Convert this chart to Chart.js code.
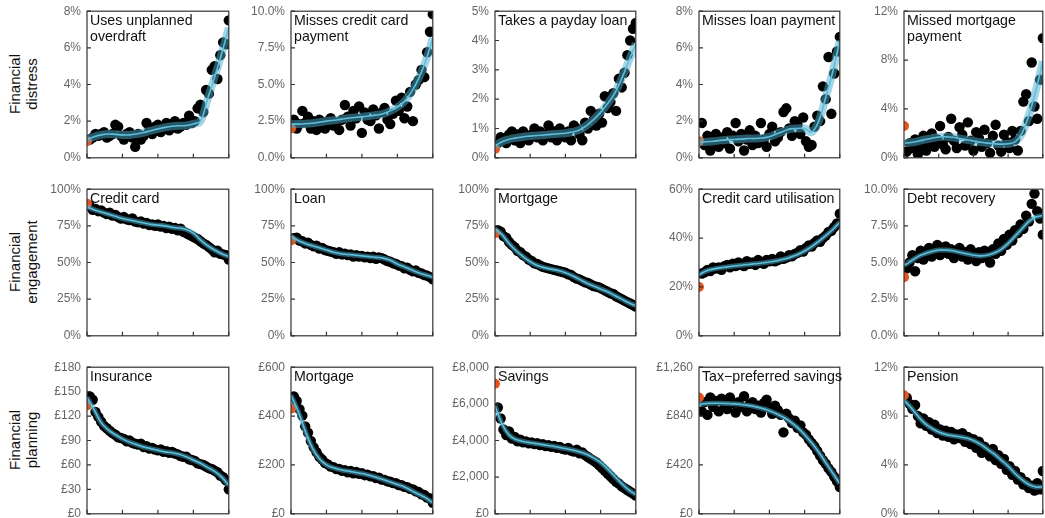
<!DOCTYPE html>
<html>
<head>
<meta charset="utf-8">
<script src="https://cdn.jsdelivr.net/npm/chart.js@4"></script>
<style>
  body { margin: 0; background: #fff; }
  #wrap { position: relative; width: 1045px; height: 518px; overflow: hidden; font-family: "Liberation Sans", Arial, sans-serif; }
  #wrap canvas { position: absolute; }
  .ttl { position: absolute; font-size: 14.2px; line-height: 16px; color: #111; white-space: nowrap; }
  .row { position: absolute; left: 23px; font-size: 15px; line-height: 17px; color: #111; text-align: center;
         white-space: nowrap; transform: translate(-50%, -50%) rotate(-90deg); }
</style>
</head>
<body>
<div id="wrap"></div>
<script>
// percentile categories
const dotX = Array.from({ length: 50 }, (_, i) => 2 + i * 2);
const lineX = Array.from({ length: 21 }, (_, i) => i * 5);
const xTicks = [0, 25, 50, 75, 100];

const rowLabels = ["Financial<br>distress", "Financial<br>engagement", "Financial<br>planning"];

// ---- Financial distress ----
const overdraftDots = [1.0,1.1,1.3,1.2,1.3,1.4,1.1,1.2,1.3,1.8, 1.7,1.2,1.0,1.3,1.4,1.1,0.6,1.3,1.0,1.2, 1.9,1.5,1.3,1.7,1.8,1.4,1.6,1.9,1.5,1.8, 2.0,1.6,1.7,1.9,1.8,2.3,1.9,2.0,2.7,2.9, 2.5,3.7,3.5,4.8,5.0,4.3,5.6,6.3,6.2,7.5];
const overdraftLine = [1.0,1.15,1.25,1.3,1.28,1.25,1.25,1.3,1.38,1.48,1.58,1.66,1.72,1.75,1.76,1.85,2.0,3.2,4.4,5.7,7.1];

const ccMissDots = [2.6,2.0,2.3,3.2,2.4,2.8,2.0,2.5,1.9,2.6, 2.3,2.0,2.5,2.7,2.2,2.4,1.9,2.6,3.6,2.8, 2.2,3.2,2.7,3.5,1.7,3.1,2.6,2.5,3.3,2.9, 2.0,3.1,3.4,2.6,2.3,3.0,3.9,3.2,4.1,2.7, 3.5,4.5,2.5,5.0,5.3,6.0,5.5,7.2,8.6,9.8];
const ccMissLine = [2.3,2.3,2.32,2.36,2.42,2.5,2.56,2.62,2.7,2.75,2.8,2.85,2.92,3.0,3.2,3.45,3.85,4.5,5.4,6.6,8.2];

const paydayDots = [0.5,0.7,0.6,0.5,0.8,0.9,0.6,0.8,0.5,0.9, 0.7,0.6,0.8,1.0,0.7,0.9,0.6,0.8,1.1,0.7, 0.9,0.6,1.0,0.8,0.7,0.9,0.6,1.1,1.0,0.8, 0.6,1.2,1.0,1.6,1.3,1.1,1.5,1.2,2.1,1.7, 1.9,2.2,1.6,2.7,2.4,2.9,3.5,4.0,4.4,4.6];
const paydayLine = [0.4,0.55,0.63,0.68,0.72,0.74,0.76,0.78,0.8,0.82,0.84,0.88,0.95,1.1,1.3,1.55,1.85,2.2,2.7,3.3,3.9];

const loanMissDots = [1.9,0.7,1.2,0.4,0.9,1.3,0.6,1.1,0.8,1.4, 0.5,1.2,1.9,0.9,1.3,0.4,1.0,1.5,0.7,1.2, 0.8,1.9,1.0,0.6,1.3,1.7,0.9,1.1,1.4,2.5, 2.7,1.6,1.2,2.0,1.8,1.3,2.2,0.9,0.6, 0.7,1.7,2.3,2.0,3.9,3.2,5.5,2.4,4.6,5.8,6.6];
const loanMissLine = [0.85,0.88,0.9,0.95,0.98,1.0,1.02,1.05,1.05,1.08,1.15,1.3,1.45,1.58,1.6,1.6,1.4,2.0,3.3,4.7,6.4];

const mortMissDots = [0.5,1.2,0.8,1.5,0.3,1.0,1.8,0.6,1.3,2.0, 0.9,1.5,2.6,1.1,0.7,1.7,3.2,1.4,0.8,2.5, 1.9,1.0,2.9,1.4,0.6,2.1,1.6,0.9,2.3,1.2, 0.4,1.8,2.7,1.0,0.5,1.9,1.3,0.8,2.2,1.5,0.6, 2.2,4.6,5.2,3.0,7.8,4.2,3.2,6.4,9.8];
const mortMissLine = [1.2,1.25,1.35,1.5,1.6,1.7,1.72,1.68,1.58,1.48,1.38,1.28,1.2,1.15,1.12,1.15,1.3,2.0,3.5,5.5,7.9];

// ---- Financial engagement ----
const creditCardDots = [88.5,86,86.5,85,85.5,84,83,84,82,82.5, 81,80,81,79.5,79,80,78,77.5,78,76.5, 77,75.5,76,75,76,74.5,75,73.5,74.5,73, 73.5,72,73,71,70,69,68,67,66,64.5, 63,62,60.5,59,57,58,56,55.5,55,52];
const creditCardLine = [88,86,84.5,83,81.5,80,79,78,77,76,75.5,75,74,73.5,72.5,70,65.5,61.5,58.5,56,54];

const loanDots = [66.5,67,65,64.5,63,63.5,62,61,61.5,59.5, 60,58.5,58,57.5,57,56,57,55.5,56,55, 55.5,54,55,54,54.5,53.5,54,53,54,52.5, 53.5,53,52,51,50.5,49.5,49,48,47.5,46, 46.5,45,44,44.5,43,42.5,41.5,41,40,38.5];
const loanLine = [68,65,63,61.5,60,58.5,57,56,55.5,55,54.5,54,53.5,53,51.5,49,47,45,43,41.5,40];

const mortgageDots = [72,71,68,67,64,62,60.5,58,57,55, 54,52,51,49.5,49,48,47,46.5,46,45.5, 45,44.5,44,43.5,43,42,41.5,40,39,38.5, 37.5,36.5,36,35,34,33.5,33,32,31,30, 29,28.5,27,26,25,24,23,22,21,20];
const mortgageLine = [73,69,63,58,54,50.5,48,46.5,45.5,44.5,43,41,38.5,36,34,32,30,27.5,25,22.5,20.5];

const utilDots = [25.5,26,27,26.5,28,27.5,28,27,28.5,29, 28,29.5,28.5,30,29,28.5,30.5,29.5,30,29, 31,30,29.5,31,30.5,31.5,30.5,31,32.5,31.5, 32,33,32.5,33.5,34,35,34.5,36,37,36.5, 38,39,38.5,40,41,42.5,43,44.5,46,50];
const utilLine = [25,26.5,27.3,27.8,28.2,28.6,28.9,29.2,29.5,29.8,30.2,30.7,31.3,32.2,33.3,34.7,36.5,38.6,41,43.5,46.5];

const debtDots = [4.6,5.0,5.5,4.4,5.3,5.8,5.2,5.6,6.0,5.4, 5.9,6.2,5.5,5.8,6.1,5.6,5.9,5.3,5.8,6.0, 5.4,5.7,5.2,5.9,5.5,5.1,5.7,5.3,5.8,5.5, 5.0,5.9,5.6,6.3,5.8,6.6,6.2,6.9,6.5,7.2, 7.0,7.6,7.3,8.2,7.8,9.0,9.7,8.5,8.0,6.9];
const debtLine = [4.8,5.1,5.4,5.6,5.75,5.85,5.85,5.8,5.7,5.6,5.5,5.45,5.5,5.65,5.9,6.3,6.8,7.3,7.8,8.1,8.2];

// ---- Financial planning ----
const insuranceDots = [144,140,125,119,113,108,105,102,99,97, 94,93,92,89,90,87,86,85,86,82, 83,80,81,79,78,79,76,77,75,76, 74,73,71,70,70,67,66,65,62,61, 60,58,56,55,53,51,47,45,41,30];
const insuranceLine = [143,128,112,103,97,92,88,85,82,80,78,76,75,73,70,66,62,57,52,45,35];

const mortPlanDots = [480,462,428,402,358,332,298,272,252,233, 222,208,202,193,191,183,184,176,178,170, 175,166,171,164,166,158,160,153,154,146, 148,140,139,133,131,126,125,118,117,110, 109,102,100,92,89,80,77,66,63,45];
const mortPlanLine = [485,420,340,270,225,200,188,180,175,170,165,158,150,140,130,120,110,95,80,65,45];

const savingsDots = [5800,5200,4600,4300,4500,4100,4200,3950,4050,3900, 3950,3850,3900,3800,3850,3750,3800,3700,3750,3650, 3700,3600,3650,3550,3500,3600,3450,3400,3500,3300, 3350,3200,3100,3000,2900,2800,2650,2500,2350,2200, 2050,1900,1750,1650,1500,1400,1300,1200,1100,1000];
const savingsLine = [5900,4900,4300,4050,3950,3880,3820,3760,3700,3630,3560,3480,3380,3250,3050,2800,2450,2050,1650,1300,1050];

const taxSavDots = [880,960,850,1000,920,970,880,990,940,900, 1000,950,870,960,920,1010,880,940,960,900, 930,870,950,980,910,860,930,890,850,700, 860,820,780,800,740,760,700,680,640,610, 580,540,500,460,430,390,360,320,280,230];
const taxSavLine = [940,948,950,950,948,945,940,932,920,905,885,860,830,790,740,680,610,530,440,350,260];

const pensionDots = [9.5,9.0,8.6,8.9,8.0,7.4,7.8,7.2,7.5,6.9, 7.3,6.6,6.9,6.4,6.8,6.3,6.7,6.1,6.5,6.2, 6.6,5.9,6.3,5.7,6.1,5.4,5.9,5.0,5.5,5.2, 4.7,5.3,4.4,4.8,4.1,4.5,3.6,3.9,3.2,3.5, 2.8,3.0,2.4,2.6,2.1,2.3,1.9,2.5,2.0,3.5];
const pensionLine = [9.3,8.7,8.0,7.4,7.0,6.7,6.5,6.4,6.3,6.2,6.0,5.7,5.3,4.9,4.4,3.9,3.3,2.8,2.4,2.2,2.2];

// first (orange) point per panel, row by row
const startValues = [0.9, 2.0, 0.3, 0.9, 2.6,  90, 65, 70, 20, 4.0,  133, 430, 7100, 1000, 9.7];

const pct0 = v => v + "%";
const pct1 = v => v.toFixed(1) + "%";
const gbp = v => "£" + v.toLocaleString("en-GB");

const panels = [
  { title: "Uses unplanned<br>overdraft", dots: overdraftDots, line: overdraftLine, max: 8, step: 2, fmt: pct0 },
  { title: "Misses credit card<br>payment", dots: ccMissDots, line: ccMissLine, max: 10, step: 2.5, fmt: pct1 },
  { title: "Takes a payday loan", dots: paydayDots, line: paydayLine, max: 5, step: 1, fmt: pct0 },
  { title: "Misses loan payment", dots: loanMissDots, line: loanMissLine, max: 8, step: 2, fmt: pct0 },
  { title: "Missed mortgage<br>payment", dots: mortMissDots, line: mortMissLine, max: 12, step: 4, fmt: pct0 },
  { title: "Credit card", dots: creditCardDots, line: creditCardLine, max: 100, step: 25, fmt: pct0 },
  { title: "Loan", dots: loanDots, line: loanLine, max: 100, step: 25, fmt: pct0 },
  { title: "Mortgage", dots: mortgageDots, line: mortgageLine, max: 100, step: 25, fmt: pct0 },
  { title: "Credit card utilisation", dots: utilDots, line: utilLine, max: 60, step: 20, fmt: pct0 },
  { title: "Debt recovery", dots: debtDots, line: debtLine, max: 10, step: 2.5, fmt: pct1 },
  { title: "Insurance", dots: insuranceDots, line: insuranceLine, max: 180, step: 30, fmt: gbp },
  { title: "Mortgage", dots: mortPlanDots, line: mortPlanLine, max: 600, step: 200, fmt: gbp },
  { title: "Savings", dots: savingsDots, line: savingsLine, max: 8000, step: 2000, fmt: gbp },
  { title: "Tax\u2212preferred savings", dots: taxSavDots, line: taxSavLine, max: 1260, step: 420, fmt: gbp },
  { title: "Pension", dots: pensionDots, line: pensionLine, max: 12, step: 4, fmt: pct0 }
];

Chart.defaults.font.family = '"Liberation Sans", Arial, sans-serif';
Chart.defaults.font.size = 12;
Chart.defaults.color = "#666";

const colLeft = [87, 291, 495, 699, 904];
const colWidth = [143, 143, 142, 142, 140];
const rowTop = [8, 186, 364];
const plotH = 148;
const padL = 60, padT = 10, padR = 4, padB = 6;
const extraB = 15; // room the chart keeps under the plot area

// box round the plot area, ticks pointing inwards
const boxPlugin = {
  id: "box",
  afterDatasetsDraw(chart) {
    const { ctx, chartArea: a, scales } = chart;
    ctx.save();
    ctx.strokeStyle = "#333";
    ctx.lineWidth = 1.2;
    ctx.strokeRect(a.left, a.top, a.right - a.left, a.bottom - a.top);
    ctx.beginPath();
    scales.y.ticks.forEach((t, i) => {
      const py = scales.y.getPixelForTick(i);
      ctx.moveTo(a.left, py);
      ctx.lineTo(a.left + 4, py);
    });
    scales.x.ticks.forEach((t, i) => {
      const px = scales.x.getPixelForTick(i);
      ctx.moveTo(px, a.bottom);
      ctx.lineTo(px, a.bottom - 4);
    });
    ctx.stroke();
    ctx.restore();
  }
};

const wrap = document.getElementById("wrap");

rowLabels.forEach((txt, r) => {
  const d = document.createElement("div");
  d.className = "row";
  d.style.top = (rowTop[r] + plotH / 2 + 2) + "px";
  d.innerHTML = txt;
  wrap.appendChild(d);
});

panels.forEach((p, k) => {
  const r = Math.floor(k / 5), c = k % 5;
  const L = colLeft[c], T = rowTop[r];
  const cv = document.createElement("canvas");
  const w = padL + colWidth[c] + padR, h = padT + plotH + extraB;
  cv.style.left = (L - padL) + "px";
  cv.style.top = (T - padT) + "px";
  cv.style.width = w + "px";
  cv.style.height = h + "px";
  cv.width = w;
  cv.height = h;
  wrap.appendChild(cv);

  const band = r === 0 ? 8 : 5;
  const linePts = p.line.map((v, i) => ({ x: lineX[i], y: v }));

  new Chart(cv, {
    type: "scatter",
    data: {
      datasets: [
        { data: linePts, showLine: true, borderColor: "#5cc0da", borderWidth: 1.6, pointRadius: 0, tension: 0.4 },
        { data: linePts, showLine: true, borderColor: "rgba(78,172,204,0.5)", borderWidth: band, pointRadius: 0, tension: 0.4 },
        { data: [{ x: 0, y: startValues[k] }], backgroundColor: "#e4541c", pointRadius: 5, borderWidth: 0 },
        { data: p.dots.map((v, i) => ({ x: dotX[i], y: v })), backgroundColor: "#000", pointRadius: 5.2, borderWidth: 0 }
      ]
    },
    options: {
      responsive: false,
      animation: false,
      events: [],
      layout: { padding: { top: padT, right: padR, bottom: padB, left: 0 } },
      plugins: { legend: { display: false }, tooltip: { enabled: false } },
      scales: {
        x: {
          type: "linear", min: 0, max: 100,
          afterBuildTicks: s => { s.ticks = xTicks.map(v => ({ value: v })); },
          afterFit: s => { s.height = 0; },
          ticks: { display: false },
          grid: { display: false, drawTicks: false },
          border: { display: false }
        },
        y: {
          min: 0, max: p.max,
          afterBuildTicks: s => {
            const t = [];
            for (let v = 0; v <= p.max + 1e-9; v += p.step) t.push({ value: v });
            s.ticks = t;
          },
          afterFit: s => { s.width = padL; },
          ticks: { padding: 6, color: "#666", callback: v => p.fmt(v) },
          grid: { display: false, drawTicks: false },
          border: { display: false }
        }
      }
    },
    plugins: [boxPlugin]
  });

  const t = document.createElement("div");
  t.className = "ttl";
  t.style.left = (L + 3) + "px";
  t.style.top = (T + 4) + "px";
  t.innerHTML = p.title;
  wrap.appendChild(t);
});
</script>
</body>
</html>
